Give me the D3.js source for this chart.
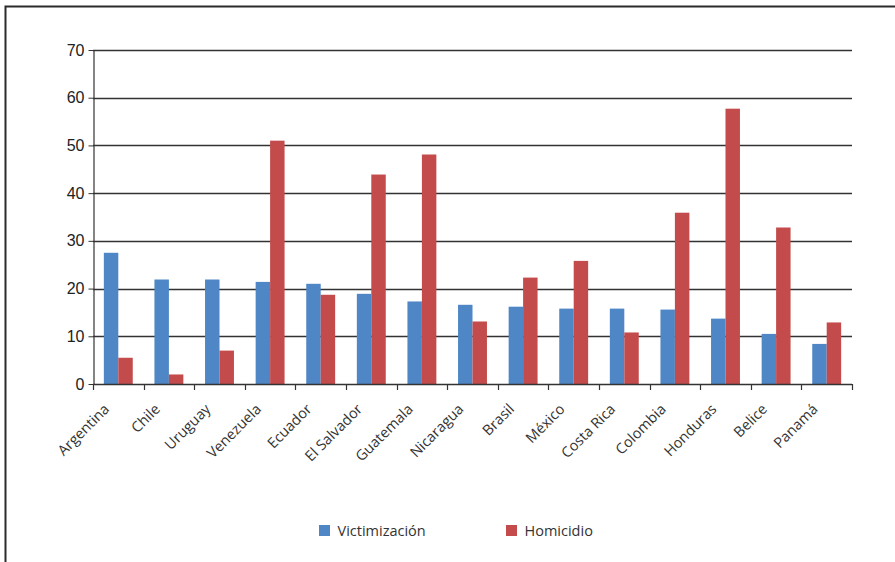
<!DOCTYPE html>
<html>
<head>
<meta charset="utf-8">
<script src="https://cdnjs.cloudflare.com/ajax/libs/d3/7.8.5/d3.min.js"></script>
<style>
  html, body { margin: 0; padding: 0; background: #fff; }
  svg { display: block; }
</style>
</head>
<body>
<script>
// Victimización vs. homicidio por país
const countries = ["Argentina", "Chile", "Uruguay", "Venezuela", "Ecuador", "El Salvador",
  "Guatemala", "Nicaragua", "Brasil", "México", "Costa Rica", "Colombia", "Honduras",
  "Belice", "Panamá"];
const victimizacion = [27.5, 21.9, 21.9, 21.4, 21.0, 18.9, 17.3, 16.6, 16.2, 15.8, 15.8, 15.6, 13.7, 10.5, 8.4];
const homicidio = [5.5, 2.0, 7.0, 51.0, 18.7, 43.9, 48.1, 13.1, 22.3, 25.8, 10.8, 35.9, 57.7, 32.8, 12.9];
const seriesNames = ["Victimización", "Homicidio"];
const seriesColors = ["#4e86c6", "#c44b4b"];
const yTicks = [0, 10, 20, 30, 40, 50, 60, 70];

const W = 895, H = 562;
const plot = { left: 93, right: 852, top: 50, bottom: 384 };

const svg = d3.select("body").append("svg").attr("width", W).attr("height", H);

// outer frame
svg.append("rect")
  .attr("x", 5.5).attr("y", 6.5).attr("width", W + 20).attr("height", H + 20)
  .attr("fill", "none").attr("stroke", "#2b2b2b").attr("stroke-width", 2);

const x = d3.scaleBand().domain(countries).range([plot.left, plot.right]).padding(0);
const y = d3.scaleLinear().domain([0, 70]).range([plot.bottom, plot.top]);
const barW = x.bandwidth() / 3.5;

// horizontal gridlines
svg.append("g").selectAll("line").data(yTicks.filter(d => d > 0)).join("line")
  .attr("x1", plot.left).attr("x2", plot.right)
  .attr("y1", d => Math.round(y(d)) + 0.5).attr("y2", d => Math.round(y(d)) + 0.5)
  .attr("stroke", "#333").attr("stroke-width", 1.3);

// bars
const rows = countries.map((c, i) => ({ c, vals: [victimizacion[i], homicidio[i]] }));
const groups = svg.append("g").selectAll("g").data(rows).join("g")
  .attr("transform", d => `translate(${x(d.c) + (x.bandwidth() - 2 * barW) / 2},0)`);
groups.selectAll("rect").data(d => d.vals).join("rect")
  .attr("x", (d, j) => j * barW)
  .attr("y", d => y(d))
  .attr("width", barW)
  .attr("height", d => y(0) - y(d))
  .attr("fill", (d, j) => seriesColors[j]);

// y axis
const yAxis = svg.append("g").attr("transform", `translate(${plot.left + 0.5},0)`)
  .call(d3.axisLeft(y).tickValues(yTicks).tickSize(5).tickPadding(4).tickSizeOuter(0));
yAxis.select(".domain").attr("stroke", "#333").attr("stroke-width", 1.2);
yAxis.selectAll(".tick line").attr("stroke", "#333");
yAxis.selectAll("text").attr("font-family", "'Liberation Sans', Arial, sans-serif")
  .attr("font-size", 16).attr("fill", "#222");

// x axis: line and boundary ticks
const xAxis = svg.append("g");
xAxis.append("line")
  .attr("x1", plot.left).attr("x2", plot.right)
  .attr("y1", plot.bottom + 0.5).attr("y2", plot.bottom + 0.5)
  .attr("stroke", "#333").attr("stroke-width", 1.4);
const bounds = countries.map(c => x(c)).concat([plot.right]);
xAxis.selectAll(".bt").data(bounds).join("line")
  .attr("x1", d => Math.round(d) + 0.5).attr("x2", d => Math.round(d) + 0.5)
  .attr("y1", plot.bottom).attr("y2", plot.bottom + 6)
  .attr("stroke", "#333").attr("stroke-width", 1.2);

// rotated category labels
xAxis.selectAll("text").data(countries).join("text")
  .attr("transform", d => `translate(${x(d) + x.bandwidth() / 2 - 8},${plot.bottom + 26}) rotate(-45)`)
  .attr("text-anchor", "end")
  .attr("font-family", "'Open Sans', sans-serif")
  .attr("font-size", 14.5)
  .attr("fill", "#333")
  .text(d => d);

// legend
const legendX = [319, 506];
const legend = svg.append("g").selectAll("g").data(seriesNames).join("g")
  .attr("transform", (d, i) => `translate(${legendX[i]},525)`);
legend.append("rect").attr("width", 11).attr("height", 11)
  .attr("fill", (d, i) => seriesColors[i]);
legend.append("text").attr("x", 18.5).attr("y", 11)
  .attr("font-family", "'Open Sans', sans-serif").attr("font-size", 14.5)
  .attr("fill", "#333").text(d => d);
</script>
</body>
</html>
